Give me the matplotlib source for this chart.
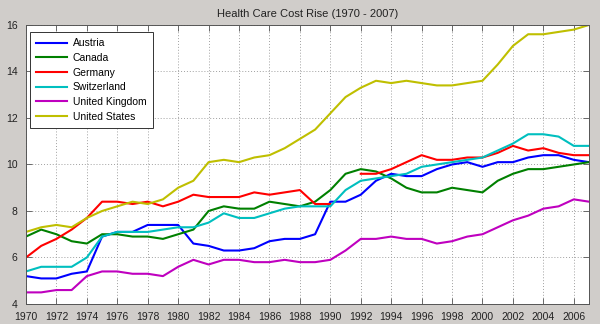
import numpy as np
import matplotlib
matplotlib.use("Agg")
import matplotlib.pyplot as plt

plt.rcParams["font.family"] = ["Liberation Sans", "DejaVu Sans"]

years = list(range(1970, 2008))

austria = [5.2, 5.1, 5.1, 5.3, 5.4, 6.9, 7.1, 7.1, 7.4, 7.4,
           7.4, 6.6, 6.5, 6.3, 6.3, 6.4, 6.7, 6.8, 6.8, 7.0,
           8.4, 8.4, 8.7, 9.3, 9.6, 9.5, 9.5, 9.8, 10.0, 10.1,
           9.9, 10.1, 10.1, 10.3, 10.4, 10.4, 10.2, 10.1]
canada = [6.9, 7.2, 7.0, 6.7, 6.6, 7.0, 7.0, 6.9, 6.9, 6.8,
          7.0, 7.2, 8.0, 8.2, 8.1, 8.1, 8.4, 8.3, 8.2, 8.4,
          8.9, 9.6, 9.8, 9.7, 9.4, 9.0, 8.8, 8.8, 9.0, 8.9,
          8.8, 9.3, 9.6, 9.8, 9.8, 9.9, 10.0, 10.1]
# no figure for 1991 (reunification break)
germany = [6.0, 6.5, 6.8, 7.2, 7.7, 8.4, 8.4, 8.3, 8.4, 8.2,
           8.4, 8.7, 8.6, 8.6, 8.6, 8.8, 8.7, 8.8, 8.9, 8.3,
           8.3, np.nan, 9.6, 9.6, 9.8, 10.1, 10.4, 10.2, 10.2, 10.3,
           10.3, 10.5, 10.8, 10.6, 10.7, 10.5, 10.4, 10.4]
switzerland = [5.4, 5.6, 5.6, 5.6, 6.0, 6.9, 7.1, 7.1, 7.1, 7.2,
               7.3, 7.3, 7.5, 7.9, 7.7, 7.7, 7.9, 8.1, 8.2, 8.2,
               8.2, 8.9, 9.3, 9.4, 9.5, 9.6, 9.9, 10.0, 10.1, 10.2,
               10.3, 10.6, 10.9, 11.3, 11.3, 11.2, 10.8, 10.8]
uk = [4.5, 4.5, 4.6, 4.6, 5.2, 5.4, 5.4, 5.3, 5.3, 5.2,
      5.6, 5.9, 5.7, 5.9, 5.9, 5.8, 5.8, 5.9, 5.8, 5.8,
      5.9, 6.3, 6.8, 6.8, 6.9, 6.8, 6.8, 6.6, 6.7, 6.9,
      7.0, 7.3, 7.6, 7.8, 8.1, 8.2, 8.5, 8.4]
usa = [7.1, 7.3, 7.4, 7.3, 7.7, 8.0, 8.2, 8.4, 8.3, 8.5,
       9.0, 9.3, 10.1, 10.2, 10.1, 10.3, 10.4, 10.7, 11.1, 11.5,
       12.2, 12.9, 13.3, 13.6, 13.5, 13.6, 13.5, 13.4, 13.4, 13.5,
       13.6, 14.3, 15.1, 15.6, 15.6, 15.7, 15.8, 16.0]

series = [("Austria", austria, "b"),
          ("Canada", canada, "g"),
          ("Germany", germany, "r"),
          ("Switzerland", switzerland, "c"),
          ("United Kingdom", uk, "m"),
          ("United States", usa, "y")]

bg = "#d0cdca"
fig = plt.figure(figsize=(6, 3.24), dpi=100, facecolor=bg)
ax = fig.add_axes([0.0433, 0.0617, 0.9384, 0.8613])
ax.set_facecolor("white")

for name, vals, col in series:
    ax.plot(years, vals, color=col, lw=1.5, label=name)

ax.set_xlim(1970, 2007)
ax.set_ylim(4, 16)
ax.set_xticks(range(1970, 2007, 2))
ax.set_yticks(range(4, 17, 2))
ax.grid(True, color="#a0a0a0", linestyle=(0, (1, 2)), linewidth=0.7)
ax.tick_params(direction="in", top=True, right=True, length=4, width=0.6,
               labelsize=7.5, colors="#555555", labelcolor="#222222", pad=6)
for sp in ax.spines.values():
    sp.set_color("#555555")
    sp.set_linewidth(0.7)

ax.set_title("Health Care Cost Rise (1970 - 2007)", fontsize=8, color="#222222", pad=6)

leg = ax.legend(loc="upper left", bbox_to_anchor=(0.007, 0.975), borderaxespad=0,
                fontsize=7.5, fancybox=False, edgecolor="#333333", framealpha=1,
                handlelength=3.0, handletextpad=0.5, labelspacing=0.45,
                borderpad=0.6)
leg.get_frame().set_linewidth(0.7)

fig.savefig("out.png", dpi=100, facecolor=bg)
